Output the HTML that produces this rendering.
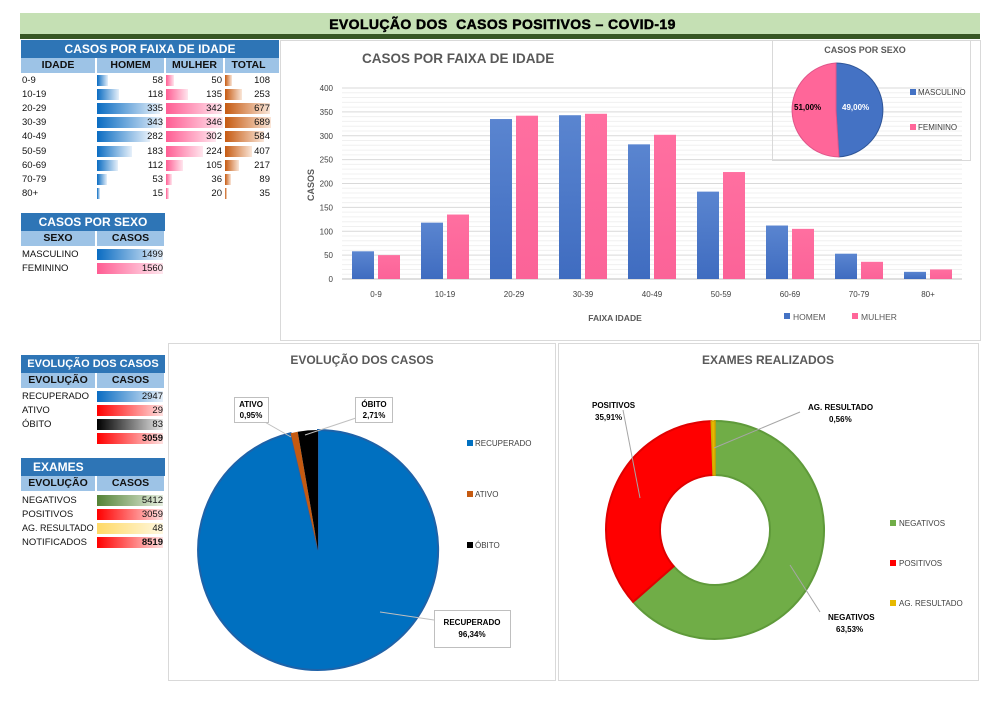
<!DOCTYPE html>
<html><head><meta charset="utf-8"><style>
body{margin:0;width:988px;height:704px;background:#fff;position:relative;font-family:"Liberation Sans",sans-serif;overflow:hidden}
.a{position:absolute}
.h{position:absolute;background:#2e75b6;color:#fff;font-weight:bold;font-size:12px;text-align:center;line-height:18px;white-space:nowrap;overflow:hidden}
.c{position:absolute;background:#9dc3e6;color:#111;font-weight:bold;font-size:10.5px;text-align:center;line-height:15px}
.t{position:absolute;font-size:9.5px;color:#111;line-height:13px}
.n{position:absolute;font-size:9.5px;color:#111;line-height:13px;text-align:right}
.b{position:absolute;height:11px}
.bl{background:linear-gradient(90deg,#0a6cc2,#e6f0fa)}
.pk{background:linear-gradient(90deg,#ff5d93,#ffe6ee)}
.or{background:linear-gradient(90deg,#c65a11,#fae6d8)}
.rd{background:linear-gradient(90deg,#ff0000,#ffe0e0)}
.bk{background:linear-gradient(90deg,#000,#e8e8e8)}
.gr{background:linear-gradient(90deg,#548235,#e6efe0)}
.yl{background:linear-gradient(90deg,#ffd966,#fff8e0)}
</style></head><body>
<div class="a" style="left:20px;top:13px;width:960px;height:21px;background:#c5e0b4"></div>
<div class="a" style="left:20px;top:34px;width:960px;height:5px;background:#375623"></div>
<div class="a" style="left:20px;top:14px;width:960px;text-align:center;font-weight:900;font-size:14px;line-height:20px;letter-spacing:0.4px;padding-left:5px;box-sizing:border-box;-webkit-text-stroke:0.5px #000">EVOLUÇÃO DOS &nbsp;CASOS POSITIVOS – COVID-19</div>

<div class="h" style="left:21px;top:40px;width:258px">CASOS POR FAIXA DE IDADE</div>
<div class="c" style="left:21px;top:58px;width:74px">IDADE</div>
<div class="c" style="left:97px;top:58px;width:67px">HOMEM</div>
<div class="c" style="left:166px;top:58px;width:57px">MULHER</div>
<div class="c" style="left:225px;top:58px;width:47px">TOTAL</div>
<div class="a" style="left:272px;top:58px;width:7px;height:15px;background:#9dc3e6"></div>

<div class="h" style="left:21px;top:213px;width:144px">CASOS POR SEXO</div>
<div class="c" style="left:21px;top:231px;width:74px">SEXO</div>
<div class="c" style="left:97px;top:231px;width:67px">CASOS</div>
<div class="t" style="left:22px;top:248px">MASCULINO</div>
<div class="b bl" style="left:97px;top:249px;width:66px"></div><div class="n" style="left:97px;top:248px;width:66px">1499</div>
<div class="t" style="left:22px;top:262px">FEMININO</div>
<div class="b pk" style="left:97px;top:263px;width:66px"></div><div class="n" style="left:97px;top:262px;width:66px">1560</div>

<div class="h" style="left:21px;top:355px;width:144px;font-size:11px">EVOLUÇÃO DOS CASOS</div>
<div class="c" style="left:21px;top:373px;width:74px">EVOLUÇÃO</div>
<div class="c" style="left:97px;top:373px;width:67px">CASOS</div>
<div class="t" style="left:22px;top:390px">RECUPERADO</div><div class="b bl" style="left:97px;top:391px;width:66px"></div><div class="n" style="left:97px;top:390px;width:66px">2947</div>
<div class="t" style="left:22px;top:404px">ATIVO</div><div class="b rd" style="left:97px;top:405px;width:66px"></div><div class="n" style="left:97px;top:404px;width:66px">29</div>
<div class="t" style="left:22px;top:418px">ÓBITO</div><div class="b bk" style="left:97px;top:419px;width:66px"></div><div class="n" style="left:97px;top:418px;width:66px">83</div>
<div class="b rd" style="left:97px;top:433px;width:66px"></div><div class="n" style="left:97px;top:432px;width:66px;font-weight:bold">3059</div>

<div class="h" style="left:21px;top:458px;width:144px;text-align:left;padding-left:12px;box-sizing:border-box">EXAMES</div>
<div class="c" style="left:21px;top:476px;width:74px">EVOLUÇÃO</div>
<div class="c" style="left:97px;top:476px;width:67px">CASOS</div>
<div class="t" style="left:22px;top:494px">NEGATIVOS</div><div class="b gr" style="left:97px;top:495px;width:66px"></div><div class="n" style="left:97px;top:494px;width:66px">5412</div>
<div class="t" style="left:22px;top:508px">POSITIVOS</div><div class="b rd" style="left:97px;top:509px;width:66px"></div><div class="n" style="left:97px;top:508px;width:66px">3059</div>
<div class="t" style="left:22px;top:522px;font-size:9px">AG. RESULTADO</div><div class="b yl" style="left:97px;top:523px;width:66px"></div><div class="n" style="left:97px;top:522px;width:66px">48</div>
<div class="t" style="left:22px;top:536px">NOTIFICADOS</div><div class="b rd" style="left:97px;top:537px;width:66px"></div><div class="n" style="left:97px;top:536px;width:66px;font-weight:bold">8519</div>

<div id="rows"></div>
<script>
var L=["0-9","10-19","20-29","30-39","40-49","50-59","60-69","70-79","80+"],H=[58,118,335,343,282,183,112,53,15],M=[50,135,342,346,302,224,105,36,20],T=[108,253,677,689,584,407,217,89,35],s="";
for(var i=0;i<9;i++){var y=74+i*14.1;
s+='<div class="t" style="left:22px;top:'+y+'px">'+L[i]+'</div>';
s+='<div class="b bl" style="left:97px;top:'+(y+1)+'px;width:'+(H[i]/343*65)+'px"></div><div class="n" style="left:97px;top:'+y+'px;width:66px">'+H[i]+'</div>';
s+='<div class="b pk" style="left:166px;top:'+(y+1)+'px;width:'+(M[i]/346*57)+'px"></div><div class="n" style="left:166px;top:'+y+'px;width:56px">'+M[i]+'</div>';
s+='<div class="b or" style="left:225px;top:'+(y+1)+'px;width:'+(T[i]/689*46)+'px"></div><div class="n" style="left:225px;top:'+y+'px;width:45px">'+T[i]+'</div>';}
document.getElementById("rows").innerHTML=s;
</script>

<svg class="a" style="left:0;top:0" width="988" height="704" font-family="Liberation Sans, sans-serif">
<defs>
<linearGradient id="gb" x1="0" y1="0" x2="0" y2="1"><stop offset="0" stop-color="#5a85d0"/><stop offset="1" stop-color="#3f6cc0"/></linearGradient>
<linearGradient id="gp" x1="0" y1="0" x2="0" y2="1"><stop offset="0" stop-color="#ff6fa0"/><stop offset="1" stop-color="#fb6398"/></linearGradient>
</defs>
<rect x="280.5" y="40.5" width="700" height="300" fill="none" stroke="#d9d9d9"/>
<rect x="168.5" y="343.5" width="387" height="337" fill="none" stroke="#d9d9d9"/>
<rect x="558.5" y="343.5" width="420" height="337" fill="none" stroke="#d9d9d9"/>
<text x="362" y="63" font-size="13.5" font-weight="bold" fill="#595959">CASOS POR FAIXA DE IDADE</text>
<g id="grid"></g>
<g id="bars"></g>
<text x="314" y="185" font-size="9" fill="#595959" font-weight="bold" transform="rotate(-90 314 185)" text-anchor="middle">CASOS</text>
<text x="615" y="321" font-size="8.5" fill="#595959" font-weight="bold" text-anchor="middle">FAIXA IDADE</text>
<rect x="784" y="313" width="6" height="6" fill="#4472c4"/><text x="793" y="320" font-size="8.5" fill="#595959">HOMEM</text>
<rect x="852" y="313" width="6" height="6" fill="#ff6699"/><text x="861" y="320" font-size="8.5" fill="#595959">MULHER</text>
<rect x="772.5" y="40.5" width="198" height="120" fill="none" stroke="#d9d9d9"/>
<text x="865" y="53" font-size="9" font-weight="bold" fill="#595959" text-anchor="middle">CASOS POR SEXO</text>
<path d="M836,110 L836,63 A47,47 0 0 1 838.95,156.9 Z" fill="#4472c4" stroke="#2f5597" stroke-width="1"/>
<path d="M836,110 L838.95,156.9 A47,47 0 0 1 836,63 Z" fill="#ff6699" stroke="#e0558a" stroke-width="1"/>
<text x="842" y="110" font-size="8" font-weight="bold" fill="#fff">49,00%</text>
<text x="794" y="110" font-size="8" font-weight="bold" fill="#000">51,00%</text>
<rect x="910" y="89" width="6" height="6" fill="#4472c4"/><text x="918" y="95" font-size="8" fill="#404040">MASCULINO</text>
<rect x="910" y="124" width="6" height="6" fill="#ff6699"/><text x="918" y="130" font-size="8" fill="#404040">FEMININO</text>

<text x="362" y="364" font-size="12" font-weight="bold" fill="#595959" text-anchor="middle">EVOLUÇÃO DOS CASOS</text>
<path d="M318,550 L318,430 A120,120 0 1 1 290.6,433.2 Z" fill="#0070c0" stroke="#1e62a8" stroke-width="2"/>
<path d="M318,550 L290.6,433.2 A120,120 0 0 1 297.7,431.7 Z" fill="#c55a11"/>
<path d="M318,550 L297.7,431.7 A120,120 0 0 1 318,430 Z" fill="#000"/>
<polyline points="263,421 291,437" fill="none" stroke="#bfbfbf"/>
<polyline points="356,418 305,435" fill="none" stroke="#bfbfbf"/>
<polyline points="434,620 380,612" fill="none" stroke="#bfbfbf"/>
<rect x="234.5" y="397.5" width="34" height="25" fill="#fff" stroke="#bfbfbf"/>
<text x="251" y="407" font-size="8" font-weight="bold" text-anchor="middle">ATIVO</text><text x="251" y="418" font-size="8" font-weight="bold" text-anchor="middle">0,95%</text>
<rect x="355.5" y="397.5" width="37" height="25" fill="#fff" stroke="#bfbfbf"/>
<text x="374" y="407" font-size="8" font-weight="bold" text-anchor="middle">ÓBITO</text><text x="374" y="418" font-size="8" font-weight="bold" text-anchor="middle">2,71%</text>
<rect x="434.5" y="610.5" width="76" height="37" fill="#fff" stroke="#bfbfbf"/>
<text x="472" y="625" font-size="8" font-weight="bold" text-anchor="middle">RECUPERADO</text><text x="472" y="637" font-size="8" font-weight="bold" text-anchor="middle">96,34%</text>
<rect x="467" y="440" width="6" height="6" fill="#0070c0"/><text x="475" y="446" font-size="8" fill="#404040">RECUPERADO</text>
<rect x="467" y="491" width="6" height="6" fill="#c55a11"/><text x="475" y="497" font-size="8" fill="#404040">ATIVO</text>
<rect x="467" y="542" width="6" height="6" fill="#000"/><text x="475" y="548" font-size="8" fill="#404040">ÓBITO</text>

<text x="768" y="364" font-size="12" font-weight="bold" fill="#595959" text-anchor="middle">EXAMES REALIZADOS</text>
<path d="M715,421 A109,109 0 1 1 633.1,601.9 L673.7,566.3 A55,55 0 1 0 715,475 Z" fill="#70ad47" stroke="#5f9a3a" stroke-width="2"/>
<path d="M633.1,601.9 A109,109 0 0 1 711.2,421.1 L713.1,475 A55,55 0 0 0 673.7,566.3 Z" fill="#ff0000" stroke="#e00000" stroke-width="2"/>
<path d="M711.2,421.1 A109,109 0 0 1 715,421 L715,475 A55,55 0 0 0 713.1,475 Z" fill="#e6b800" stroke="#d4a800" stroke-width="1.5"/>
<polyline points="623,410 640,498" fill="none" stroke="#a6a6a6"/>
<polyline points="800,412 714,448" fill="none" stroke="#a6a6a6"/>
<polyline points="820,612 790,565" fill="none" stroke="#a6a6a6"/>
<text x="592" y="408" font-size="8" font-weight="bold">POSITIVOS</text><text x="595" y="420" font-size="8" font-weight="bold">35,91%</text>
<text x="808" y="410" font-size="8" font-weight="bold">AG. RESULTADO</text><text x="829" y="422" font-size="8" font-weight="bold">0,56%</text>
<text x="828" y="620" font-size="8" font-weight="bold">NEGATIVOS</text><text x="836" y="632" font-size="8" font-weight="bold">63,53%</text>
<rect x="890" y="520" width="6" height="6" fill="#70ad47"/><text x="899" y="526" font-size="8" fill="#404040">NEGATIVOS</text>
<rect x="890" y="560" width="6" height="6" fill="#ff0000"/><text x="899" y="566" font-size="8" fill="#404040">POSITIVOS</text>
<rect x="890" y="600" width="6" height="6" fill="#e6b800"/><text x="899" y="606" font-size="8" fill="#404040">AG. RESULTADO</text>
</svg>
<script>
var g="",b="";
for(var v=0;v<=400;v+=10){var y=279-v*0.4775;
 if(v%50==0){g+='<line x1="342" x2="962" y1="'+y+'" y2="'+y+'" stroke="'+(v==0?'#bfbfbf':'#d9d9d9')+'"/><text x="333" y="'+(y+3)+'" font-size="8" fill="#404040" text-anchor="end">'+v+'</text>';}
 else g+='<line x1="342" x2="962" y1="'+y+'" y2="'+y+'" stroke="#f0f0f0"/>';}
for(var i=0;i<9;i++){var c=376+69*i;
 var h=H[i]*0.4775,m=M[i]*0.4775;
 b+='<rect x="'+(c-24)+'" y="'+(279-h)+'" width="22" height="'+h+'" fill="url(#gb)"/>';
 b+='<rect x="'+(c+2)+'" y="'+(279-m)+'" width="22" height="'+m+'" fill="url(#gp)"/>';
 b+='<text x="'+c+'" y="297" font-size="8" fill="#404040" text-anchor="middle">'+L[i]+'</text>';}
document.getElementById("grid").innerHTML=g;document.getElementById("bars").innerHTML=b;
</script>
</body></html>
